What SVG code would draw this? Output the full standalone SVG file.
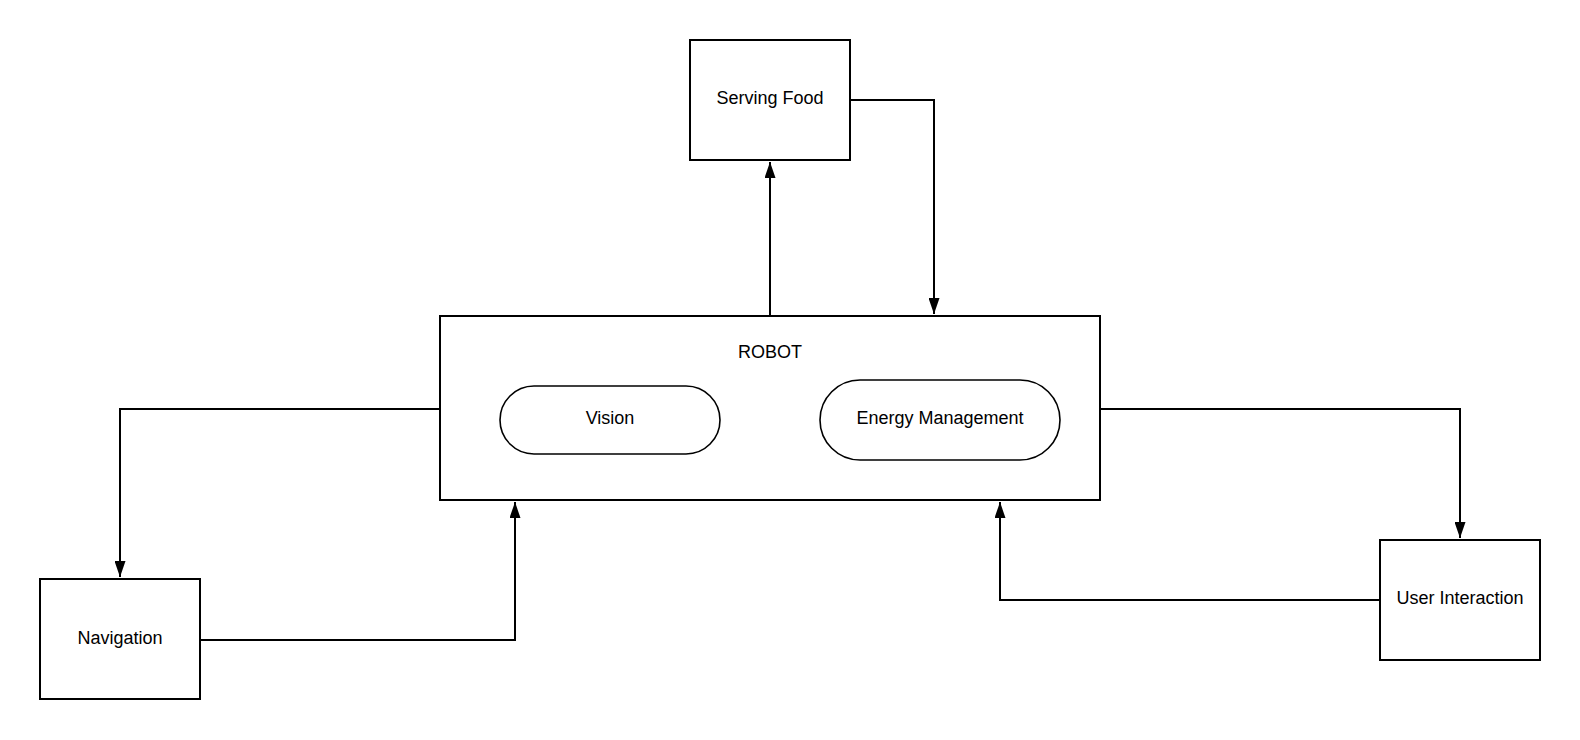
<svg xmlns="http://www.w3.org/2000/svg" width="1580" height="740" viewBox="0 0 1580 740">
<style>
.box{fill:#fff;stroke:#000;stroke-width:2}
.pill{fill:#fff;stroke:#000;stroke-width:1.6}
.lbl{font-family:"Liberation Sans",Arial,sans-serif;font-size:18px;fill:#000;text-anchor:middle}
.conn{fill:none;stroke:#000;stroke-width:2}
</style>
<defs>
<marker id="arr" markerUnits="userSpaceOnUse" markerWidth="16" markerHeight="11" refX="16" refY="5.5" orient="auto">
<path d="M0,0 L16,5.5 L0,11 z" fill="#000"/>
</marker>
</defs>
<rect width="1580" height="740" fill="#fff"/>
<g id="connectors">
<path class="conn" d="M770,316 V162" marker-end="url(#arr)"/>
<path class="conn" d="M850,100 H934 V314" marker-end="url(#arr)"/>
<path class="conn" d="M440,409 H120 V577" marker-end="url(#arr)"/>
<path class="conn" d="M200,640 H515 V502" marker-end="url(#arr)"/>
<path class="conn" d="M1100,409 H1460 V538" marker-end="url(#arr)"/>
<path class="conn" d="M1380,600 H1000 V502" marker-end="url(#arr)"/>
</g>
<g id="serving-food">
<rect class="box" x="690" y="40" width="160" height="120"/>
<text class="lbl" x="770" y="104">Serving Food</text>
</g>
<g id="robot">
<rect class="box" x="440" y="316" width="660" height="184"/>
<text class="lbl" x="770" y="358">ROBOT</text>
</g>
<g id="vision">
<rect class="pill" x="500" y="386" width="220" height="68" rx="34" ry="34"/>
<text class="lbl" x="610" y="424">Vision</text>
</g>
<g id="energy-management">
<rect class="pill" x="820" y="380" width="240" height="80" rx="40" ry="40"/>
<text class="lbl" x="940" y="424">Energy Management</text>
</g>
<g id="navigation">
<rect class="box" x="40" y="579" width="160" height="120"/>
<text class="lbl" x="120" y="644">Navigation</text>
</g>
<g id="user-interaction">
<rect class="box" x="1380" y="540" width="160" height="120"/>
<text class="lbl" x="1460" y="604">User Interaction</text>
</g>
</svg>
